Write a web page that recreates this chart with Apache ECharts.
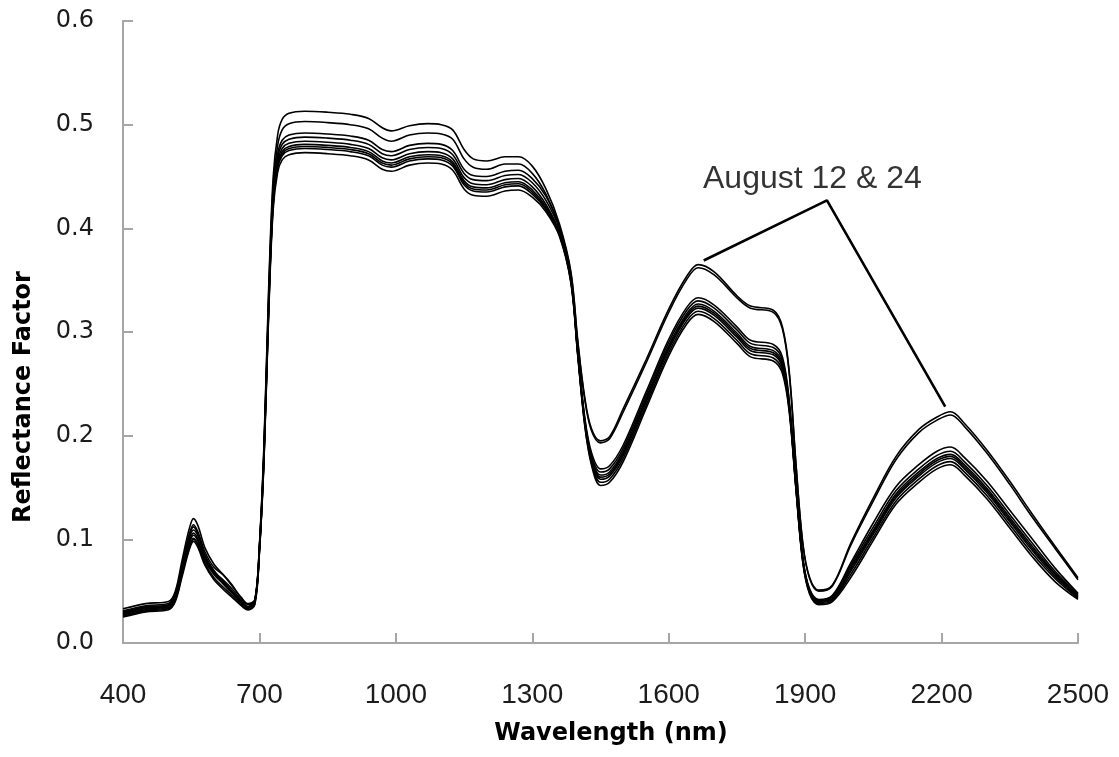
<!DOCTYPE html>
<html>
<head>
<meta charset="utf-8">
<script src="https://cdn.jsdelivr.net/npm/echarts@6/dist/echarts.min.js"></script>
<style>
html,body{margin:0;padding:0;background:#fff;}
#chart{width:1119px;height:757px;}
</style>
</head>
<body>
<div id="chart"></div>
<script>
// ---- data ----
const wavelength = [
  400,450,500,515,530,545,555,565,580,600,
  620,640,660,675,690,700,710,720,730,740,
  750,765,800,850,900,940,970,990,1030,1070,
  1100,1125,1150,1170,1200,1240,1270,1300,1330,1360,
  1385,1400,1415,1430,1450,1470,1500,1550,1600,1640,
  1665,1700,1750,1780,1830,1850,1865,1880,1895,1910,
  1930,1960,2000,2050,2100,2150,2190,2220,2250,2300,
  2350,2400,2450,2500
];
const aug12 = [
  0.030,0.035,0.037,0.047,0.075,0.102,0.112,0.105,0.085,0.070,
  0.060,0.050,0.040,0.035,0.041,0.095,0.192,0.338,0.448,0.490,
  0.505,0.511,0.513,0.512,0.510,0.506,0.497,0.494,0.499,0.501,
  0.500,0.495,0.476,0.467,0.465,0.469,0.469,0.460,0.438,0.404,
  0.358,0.292,0.238,0.207,0.195,0.199,0.226,0.273,0.322,0.354,
  0.365,0.358,0.335,0.325,0.321,0.305,0.262,0.172,0.096,0.063,
  0.051,0.056,0.096,0.140,0.180,0.206,0.218,0.223,0.212,0.186,
  0.156,0.124,0.093,0.063
];
const aug24 = [
  0.028,0.033,0.035,0.045,0.071,0.097,0.106,0.100,0.082,0.068,
  0.058,0.049,0.039,0.034,0.040,0.093,0.188,0.332,0.440,0.480,
  0.495,0.501,0.503,0.502,0.500,0.496,0.487,0.484,0.490,0.492,
  0.491,0.486,0.467,0.459,0.457,0.462,0.462,0.453,0.433,0.401,
  0.356,0.290,0.236,0.205,0.193,0.197,0.223,0.270,0.319,0.351,
  0.362,0.355,0.333,0.323,0.319,0.303,0.260,0.171,0.095,0.062,
  0.050,0.055,0.094,0.137,0.177,0.203,0.215,0.220,0.209,0.183,
  0.153,0.121,0.091,0.061
];
const other1 = [
  0.033,0.038,0.040,0.050,0.080,0.109,0.120,0.113,0.092,0.076,
  0.066,0.055,0.044,0.038,0.042,0.093,0.185,0.326,0.433,0.472,
  0.485,0.490,0.492,0.491,0.489,0.485,0.476,0.474,0.480,0.482,
  0.481,0.475,0.457,0.451,0.450,0.455,0.456,0.448,0.431,0.401,
  0.353,0.282,0.219,0.184,0.168,0.171,0.191,0.242,0.293,0.324,
  0.333,0.326,0.305,0.292,0.288,0.276,0.234,0.154,0.082,0.052,
  0.042,0.046,0.077,0.116,0.151,0.172,0.185,0.189,0.179,0.156,
  0.128,0.100,0.072,0.048
];
const other2 = [
  0.031,0.036,0.038,0.048,0.076,0.104,0.114,0.107,0.088,0.073,
  0.066,0.056,0.043,0.037,0.041,0.092,0.183,0.324,0.430,0.468,
  0.481,0.486,0.488,0.487,0.485,0.481,0.472,0.470,0.476,0.478,
  0.477,0.471,0.453,0.447,0.446,0.451,0.452,0.444,0.427,0.399,
  0.352,0.281,0.217,0.181,0.165,0.168,0.188,0.239,0.290,0.321,
  0.330,0.323,0.302,0.289,0.285,0.273,0.232,0.152,0.081,0.051,
  0.041,0.045,0.075,0.112,0.147,0.168,0.181,0.185,0.175,0.152,
  0.124,0.096,0.069,0.047
];
const other3 = [
  0.027,0.032,0.034,0.042,0.067,0.091,0.100,0.095,0.080,0.068,
  0.061,0.052,0.041,0.035,0.040,0.090,0.181,0.321,0.427,0.465,
  0.477,0.482,0.484,0.483,0.481,0.477,0.468,0.466,0.472,0.474,
  0.473,0.467,0.449,0.443,0.442,0.447,0.448,0.440,0.423,0.396,
  0.351,0.280,0.216,0.179,0.162,0.165,0.185,0.236,0.287,0.318,
  0.327,0.320,0.299,0.286,0.282,0.270,0.229,0.151,0.080,0.050,
  0.040,0.044,0.073,0.109,0.144,0.165,0.178,0.182,0.172,0.149,
  0.121,0.093,0.067,0.046
];
const other4 = [
  0.029,0.034,0.036,0.044,0.070,0.095,0.104,0.098,0.080,0.066,
  0.057,0.048,0.039,0.035,0.040,0.090,0.180,0.320,0.425,0.462,
  0.474,0.479,0.481,0.480,0.478,0.474,0.465,0.463,0.469,0.471,
  0.470,0.464,0.446,0.440,0.439,0.444,0.445,0.437,0.421,0.395,
  0.350,0.280,0.215,0.178,0.160,0.163,0.183,0.234,0.285,0.316,
  0.325,0.318,0.297,0.284,0.280,0.268,0.228,0.150,0.080,0.050,
  0.040,0.043,0.071,0.107,0.142,0.163,0.176,0.180,0.170,0.147,
  0.119,0.091,0.066,0.045
];
const other5 = [
  0.029,0.034,0.036,0.046,0.074,0.100,0.109,0.103,0.084,0.069,
  0.059,0.049,0.040,0.035,0.040,0.089,0.179,0.318,0.423,0.460,
  0.472,0.477,0.479,0.478,0.476,0.472,0.463,0.461,0.467,0.469,
  0.468,0.462,0.444,0.438,0.437,0.442,0.443,0.435,0.419,0.394,
  0.349,0.279,0.214,0.177,0.158,0.161,0.181,0.232,0.283,0.314,
  0.323,0.316,0.295,0.282,0.278,0.266,0.227,0.149,0.079,0.049,
  0.039,0.042,0.069,0.105,0.140,0.161,0.174,0.178,0.168,0.145,
  0.117,0.089,0.064,0.044
];
const other6 = [
  0.026,0.031,0.033,0.041,0.067,0.092,0.101,0.095,0.077,0.063,
  0.054,0.046,0.037,0.033,0.038,0.088,0.177,0.316,0.421,0.458,
  0.470,0.475,0.477,0.476,0.474,0.470,0.461,0.459,0.465,0.467,
  0.466,0.460,0.442,0.436,0.435,0.440,0.441,0.433,0.418,0.393,
  0.348,0.278,0.212,0.174,0.155,0.158,0.178,0.229,0.280,0.311,
  0.320,0.313,0.292,0.279,0.275,0.263,0.225,0.148,0.078,0.048,
  0.038,0.041,0.066,0.102,0.137,0.158,0.171,0.175,0.165,0.142,
  0.114,0.086,0.062,0.043
];
const other7 = [
  0.025,0.030,0.032,0.040,0.064,0.089,0.098,0.092,0.075,0.061,
  0.052,0.044,0.036,0.032,0.037,0.087,0.175,0.313,0.417,0.454,
  0.466,0.471,0.473,0.472,0.470,0.466,0.457,0.455,0.461,0.463,
  0.462,0.456,0.438,0.432,0.431,0.436,0.437,0.430,0.416,0.392,
  0.347,0.277,0.211,0.172,0.152,0.155,0.175,0.226,0.277,0.308,
  0.317,0.310,0.289,0.276,0.272,0.260,0.223,0.147,0.077,0.047,
  0.037,0.040,0.063,0.099,0.134,0.155,0.168,0.172,0.162,0.139,
  0.111,0.083,0.059,0.042
];
const seriesNames = ['August 12','August 24','Date 1','Date 2','Date 3','Date 4','Date 5','Date 6','Date 7'];
const curves = [aug12, aug24, other1, other2, other3, other4, other5, other6, other7];
const xTickLabels = [400,700,1000,1300,1600,1900,2200,2500];
const yTickLabels = [0.0,0.1,0.2,0.3,0.4,0.5,0.6];
const annotationText = 'August 12 & 24';
const annotationLeader = [[1677,0.369],[1948,0.427],[2208,0.228]];
const annotationTextAt = [1916,0.447];
const xTitle = 'Wavelength (nm)';
const yTitle = 'Reflectance Factor';

// ---- chart ----
const chart = echarts.init(document.getElementById('chart'), null, {renderer:'canvas'});
const axisGray = '#a6a6a6';
const series = curves.map((c, k) => ({
  name: seriesNames[k],
  type: 'line',
  data: wavelength.map((w, i) => [w, c[i]]),
  showSymbol: false,
  symbol: 'none',
  smooth: 0.35,
  lineStyle: {color: '#000', width: 1.6},
  emphasis: {disabled: true},
  z: 2
}));
series.push({
  name: 'annotation',
  type: 'line',
  data: annotationLeader,
  showSymbol: false,
  symbol: 'none',
  lineStyle: {color: '#000', width: 2.6},
  emphasis: {disabled: true},
  z: 3
});
series.push({
  name: 'annotationLabel',
  type: 'scatter',
  data: [annotationTextAt],
  symbolSize: 1,
  itemStyle: {color: 'rgba(0,0,0,0)'},
  label: {
    show: true, position: 'inside', formatter: annotationText,
    fontFamily: 'Liberation Sans, Arial, sans-serif', fontSize: 32, color: '#000',
    textBorderWidth: 0
  },
  emphasis: {disabled: true},
  z: 4
});

chart.setOption({
  animation: false,
  backgroundColor: '#fff',
  grid: {left: 123, right: 41, top: 21, bottom: 114},
  xAxis: {
    type: 'value', min: 400, max: 2500,
    axisLine: {show: true, lineStyle: {color: axisGray, width: 2}},
    axisTick: {show: true, inside: true, length: 10, lineStyle: {color: axisGray, width: 2}, customValues: xTickLabels},
    axisLabel: {
      customValues: xTickLabels, margin: 38, formatter: v => String(v),
      fontFamily: 'Liberation Sans, Arial, sans-serif', fontSize: 28, color: '#1c1c1c'
    },
    splitLine: {show: false}
  },
  yAxis: {
    type: 'value', min: 0, max: 0.6, interval: 0.1,
    axisLine: {show: true, lineStyle: {color: axisGray, width: 2}},
    axisTick: {show: true, inside: true, length: 10, lineStyle: {color: axisGray, width: 2}},
    axisLabel: {
      margin: 29, formatter: v => v.toFixed(1),
      fontFamily: 'DejaVu Sans, sans-serif', fontSize: 24, color: '#1c1c1c'
    },
    splitLine: {show: false}
  },
  graphic: [
    {type: 'text', x: 611, y: 734, style: {text: xTitle, fontFamily: 'DejaVu Sans, sans-serif', fontWeight: 'bold', fontSize: 24, fill: '#000', align: 'center', verticalAlign: 'middle'}},
    {type: 'text', x: 24, y: 397, rotation: Math.PI/2, style: {text: yTitle, fontFamily: 'DejaVu Sans, sans-serif', fontWeight: 'bold', fontSize: 24, fill: '#000', align: 'center', verticalAlign: 'middle'}}
  ],
  series: series
});
</script>
</body>
</html>
